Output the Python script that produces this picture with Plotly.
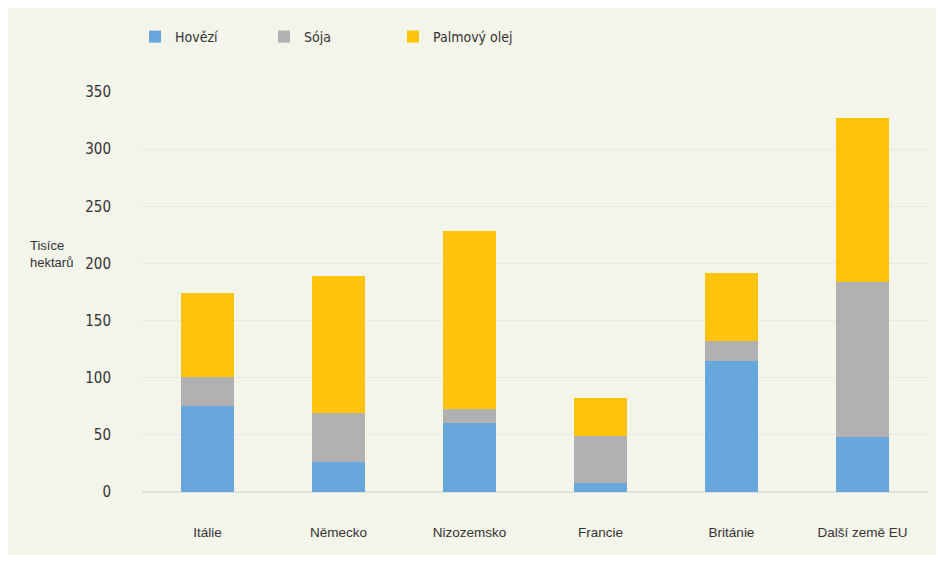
import plotly.graph_objects as go

categories = ["Itálie", "Německo", "Nizozemsko", "Francie", "Británie", "Další země EU"]
hovezi = [75, 26, 60, 8, 115, 48]
soja = [26, 43, 13, 41, 17, 136]
palmovy_olej = [73, 120, 155, 33, 60, 143]
y_ticks = [0, 50, 100, 150, 200, 250, 300, 350]

colors = {"Hovězí": "#67a7db", "Sója": "#b1b1b1", "Palmový olej": "#fec40c"}
font_family = "DejaVu Sans Condensed, Liberation Sans Narrow, Arial Narrow, sans-serif"

fig = go.Figure()
for name, vals in [("Hovězí", hovezi), ("Sója", soja), ("Palmový olej", palmovy_olej)]:
    fig.add_trace(go.Bar(x=categories, y=vals, name=name,
                         marker=dict(color=colors[name], line=dict(width=0)),
                         width=0.405))

L, R, T, B = 142, 10, 92, 71
W, H = 938, 563
pw, ph = W - L - R, H - T - B
def px(x):
    return (x - L) / pw
def py(y):
    return (H - B - y) / ph

fig.add_shape(type="rect", xref="paper", yref="paper",
              x0=px(8), x1=px(936), y0=py(555), y1=py(8),
              fillcolor="#f3f4ea", line=dict(width=0), layer="below")

fig.add_annotation(text="Tisíce<br>hektarů", xref="paper", yref="paper",
                   x=px(28), y=py(254), xanchor="left", yanchor="middle",
                   showarrow=False, align="left",
                   font=dict(family="Liberation Sans, Arial, sans-serif", size=13, color="#333333"))

fig.update_layout(
    width=W, height=H,
    margin=dict(l=L, r=R, t=T, b=B),
    barmode="stack",
    paper_bgcolor="white",
    plot_bgcolor="white",
    legend=dict(orientation="h", x=px(135), y=py(37), xanchor="left", yanchor="middle",
                entrywidth=84, entrywidthmode="pixels", traceorder="normal",
                bgcolor="rgba(0,0,0,0)",
                font=dict(family=font_family, size=14, color="#333333")),
    xaxis=dict(showgrid=False, showline=False, ticks="", ticklabelstandoff=30,
               tickfont=dict(family="Liberation Sans, Arial, sans-serif", size=13.5, color="#333333")),
    yaxis=dict(range=[0, 350], tickvals=y_ticks, showgrid=True, gridcolor="#e8e8e4",
               gridwidth=1, zeroline=True, zerolinecolor="#e0e0dc", showline=False, ticks="",
               ticklabelstandoff=30,
               tickfont=dict(family=font_family, size=15, color="#333333")),
    showlegend=True,
)

fig.write_html("out.html")
